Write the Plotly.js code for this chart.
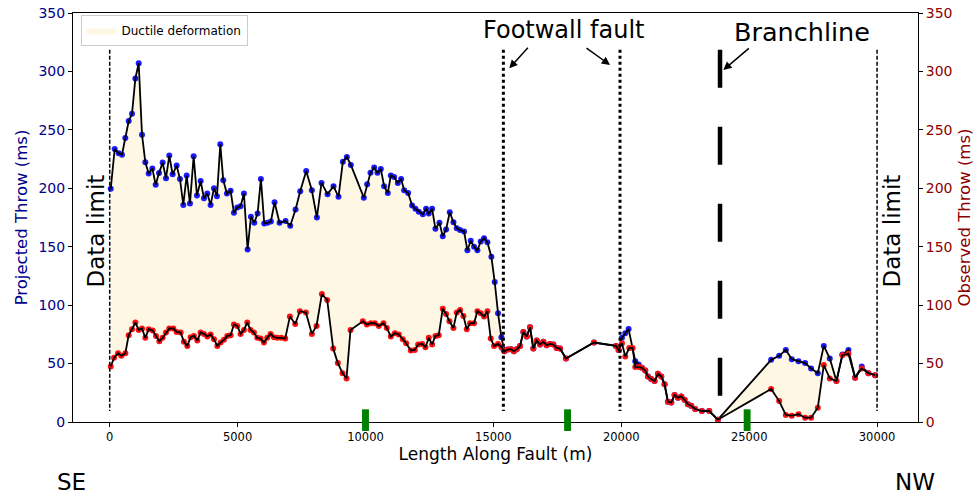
<!DOCTYPE html>
<html>
<head>
<meta charset="utf-8">
<script src="https://cdn.plot.ly/plotly-3.0.1.min.js"></script>
<style>
  html, body { margin: 0; padding: 0; background: #ffffff; }
  #chart { width: 974px; height: 496px; }
</style>
</head>
<body>
<div id="chart"></div>
<script>
// Projected throw along the fault (ms), sampled positions in metres
const projX = [
  40,195,350,480,610,742,872,1003,1133,1263,1393,1523,1667,1797,1927,2070,2200,2330,2460,2617,
  2747,2877,3008,3138,3281,3411,3555,3685,3815,3945,4076,4193,4323,4440,4583,4727,4857,4987,5117,5247,
  5391,5521,5651,5781,5911,6042,6172,6302,6445,6640,6875,7057,7266,7448,7682,7903,8099,8281,8516,8750,
  8945,9115,9271,9427,9935,10065,10195,10339,10469,10599,10729,10872,10990,11120,11263,11393,11510,11666,11823,11953,
  12083,12240,12370,12474,12604,12734,12891,13021,13151,13294,13438,13568,13698,13854,13984,14114,14245,14375,14505,14635,
  14765,14921,15052,15182,15313,15390,
  15430,15560,15690,15800,15911,16042,16172,16302,16432,16562,16693,16823,16953,17083,17214,17344,17474,17604,17839,18932,
  19792,19895,
  20026,20156,20286,20547,20677,
  20807,20937,21042,21172,21302,21432,21563,21693,21823,21953,22083,22214,22344,22474,22604,22734,22891,23151,23438,23776,
  25859,26172,26432,26666,26927,27188,27422,27683,27917,28151,28411,28645,28880,29141,29401,29661,29922
];
const projY = [
  199.5,233.6,230,228.8,243,257.5,263.8,294,307,245.9,222.2,212.6,217,203,213,222,208.6,228,212,219.4,
  208,185.8,210.9,187,227.4,193.8,206.3,191.5,195.5,185.8,200,193.2,237.6,206.8,195.5,197.8,179,183.5,184.7,195.5,
  147.7,175.6,170.5,178.4,208,169.9,170.5,171.6,188,170.5,172,168,181.8,197.5,214.8,198.3,175,204.6,195,201.8,
  192.7,222.8,226.8,220,192,203.5,213.2,217.7,213.2,216.5,201.8,196,210.9,209.7,204.6,208,198.3,196,185.2,182.4,
  180,177.8,182.4,178.4,182.4,165.4,170.5,159,164.8,179.5,171,165.9,164.2,163,147,155,150,147,154.5,157.3,
  153.9,141.4,119.8,93,72.6,62,
  60.5,62,62.3,60.6,62.3,65.1,77.1,73.2,81.1,62.9,69.7,66.3,68.6,65.7,66.8,66.3,63.4,62.9,54.4,68,
  65.1,61.7,
  72,76,79.5,52,49.3,
  46.4,44,39,36.7,35,41.2,39,32.2,17.3,16.7,23,20.8,21.9,19,15.1,13.9,11.1,9.4,9.4,2,
  53.2,56.6,61.7,53.8,52,50.4,45.8,41.8,65.1,54.4,35,57.8,61.7,37.8,47.5,41.8,40.1
];

// Observed throw along the fault (ms)
const obsX = [
  40,170,326,456,612,742,872,1003,1133,1263,1393,1523,1680,1810,1940,2070,2200,2330,2487,2617,
  2773,2903,3034,3164,3294,3424,3555,3685,3815,3945,4076,4206,4336,4466,4596,4727,4857,4987,5117,5247,
  5378,5508,5638,5768,5898,6029,6159,6289,6419,6550,6706,6862,7044,7253,7435,7670,7903,8086,8294,8503,
  8737,8919,9102,9258,9414,
  9896,10052,10208,10365,10521,10703,10833,10990,11146,11302,11458,11589,11771,11927,12057,12214,12344,12474,12604,12734,
  12864,13021,13151,13281,13438,13568,13698,13828,13958,14089,14245,14375,14505,14635,14765,14896,15026,15182,15313,
  15430,15560,15690,15800,15911,16042,16172,16302,16432,16562,16693,16823,16953,17083,17214,17344,17474,17604,17839,18932,
  19792,19895,
  20026,20156,20312,20443,20547,20700,
  20807,20937,21042,21172,21302,21432,21563,21693,21823,21953,22083,22214,22344,22474,22604,22734,22891,23151,23438,23776,
  25859,26172,26432,26666,26927,27188,27422,27683,27917,28151,28411,28645,28880,29141,29401,29661,29922
];
const obsY = [
  47.5,54.9,58.9,56.6,58.9,74.3,79.4,85.1,78.8,80,72,79.4,78.3,73.7,69.1,72,76.6,80,80,77.1,
  76.6,68.6,65.1,72.6,73.7,69.7,76.6,75.4,73.2,74.9,70.9,65.1,68,70.3,73.7,74.3,83.4,82.2,75.4,78.8,
  85.1,78.8,76.6,72,71.4,68,72,75.4,72.6,72,72,71.4,90.2,83.9,94.8,93.6,75.4,82.2,109.5,104.4,
  62.9,50.4,41.8,37.3,78.8,
  86.2,83.4,84.5,84.5,82.2,84.5,80.5,73.2,76,74.9,70.9,67.4,61.2,61.7,66.3,66.8,64,72,66.3,73.7,
  74.3,97,92.5,86.2,80.5,93.6,95.9,90.7,79.4,84.5,84.5,94.8,93,90.2,94.8,71.4,65.1,66.8,64,
  60.5,62,62.3,60.6,62.3,65.1,77.1,73.2,81.1,62.9,69.7,66.3,68.6,65.7,66.8,66.3,63.4,62.9,54.4,68,
  65.1,61.7,
  67.4,56,63.4,63.4,47,47,
  46.4,44,39,36.7,35,41.2,39,32.2,17.3,16.7,23,20.8,21.9,19,15.1,13.9,11.1,9.4,9.4,2,
  28.2,17.9,6,5.4,6.6,3.7,3.7,12.2,48.7,37.3,35,57.2,58.3,37.8,45.8,41.8,40.1
];

const xTicks = [0, 5000, 10000, 15000, 20000, 25000, 30000];
const yTicks = [0, 50, 100, 150, 200, 250, 300, 350];

// Reference positions along the fault (m)
const dataLimits = [0, 30000];
const footwallFaults = [15390, 19950];
const branchline = 23860;
const wellSites = [10000, 17900, 24920];

const FONT = 'DejaVu Sans, sans-serif';
const BLUE = '#00008b';
const RED = '#8b0000';

// Ductile deformation: area between projected (upper) and observed (lower) throw
const fillX = projX.concat(obsX.slice().reverse());
const fillY = projY.concat(obsY.slice().reverse());

const traces = [
  {
    x: fillX, y: fillY, type: 'scatter', mode: 'lines',
    fill: 'toself', fillcolor: '#fdf7e3',
    line: {width: 0, color: '#fdf7e3'},
    name: 'Ductile deformation', hoverinfo: 'skip'
  },
  {
    x: projX, y: projY, type: 'scatter', mode: 'markers',
    marker: {color: '#1a1aff', size: 6},
    showlegend: false, name: 'Projected throw'
  },
  {
    x: obsX, y: obsY, type: 'scatter', mode: 'markers', yaxis: 'y2',
    marker: {color: '#ff1010', size: 6},
    showlegend: false, name: 'Observed throw'
  },
  {
    x: projX, y: projY, type: 'scatter', mode: 'lines',
    line: {color: '#000000', width: 1.8},
    showlegend: false, hoverinfo: 'skip'
  },
  {
    x: obsX, y: obsY, type: 'scatter', mode: 'lines', yaxis: 'y2',
    line: {color: '#000000', width: 1.8},
    showlegend: false, hoverinfo: 'skip'
  }
];

const shapes = [];
dataLimits.forEach(v => shapes.push({
  type: 'line', xref: 'x', yref: 'y', x0: v, x1: v, y0: 318.5, y1: 9.5,
  line: {color: '#000000', width: 1.5, dash: '4px,2px'}, layer: 'above'
}));
footwallFaults.forEach(v => shapes.push({
  type: 'line', xref: 'x', yref: 'y', x0: v, x1: v, y0: 318.5, y1: 9.5,
  line: {color: '#000000', width: 3, dash: '3px,3px'}, layer: 'above'
}));
shapes.push({
  type: 'line', xref: 'x', yref: 'y', x0: branchline, x1: branchline, y0: 318.5, y1: 22.2,
  line: {color: '#000000', width: 4.5, dash: '38px,39px'}, layer: 'above'
});
wellSites.forEach(v => shapes.push({
  type: 'rect', xref: 'x', yref: 'paper', x0: v - 135, x1: v + 135, y0: -0.022, y1: 0.031,
  fillcolor: '#008000', line: {width: 0}, layer: 'above'
}));

const annotations = [
  {text: 'Data limit', xref: 'paper', yref: 'paper', x: 0.0278, y: 0.467, textangle: -90,
   showarrow: false, font: {family: FONT, size: 23, color: '#000'}, xanchor: 'center', yanchor: 'middle'},
  {text: 'Data limit', xref: 'paper', yref: 'paper', x: 0.9698, y: 0.467, textangle: -90,
   showarrow: false, font: {family: FONT, size: 23, color: '#000'}, xanchor: 'center', yanchor: 'middle'},
  {text: 'Footwall fault', xref: 'paper', yref: 'paper', x: 0.5801, y: 0.958,
   showarrow: false, font: {family: FONT, size: 24, color: '#000'}, xanchor: 'center', yanchor: 'middle'},
  {text: 'Branchline', xref: 'paper', yref: 'paper', x: 0.8624, y: 0.953,
   showarrow: false, font: {family: FONT, size: 25.5, color: '#000'}, xanchor: 'center', yanchor: 'middle'},
  {text: 'SE', xref: 'paper', yref: 'paper', x: -0.002, y: -0.147,
   showarrow: false, font: {family: FONT, size: 23, color: '#000'}, xanchor: 'center', yanchor: 'middle'},
  {text: 'NW', xref: 'paper', yref: 'paper', x: 0.9965, y: -0.147,
   showarrow: false, font: {family: FONT, size: 23, color: '#000'}, xanchor: 'center', yanchor: 'middle'},
  // arrows pointing at the footwall faults and the branchline
  {text: '', xref: 'x', yref: 'y', x: 15620, y: 302.7, ax: 20, ay: -22, showarrow: true,
   arrowhead: 2, arrowsize: 1.1, arrowwidth: 1.5, arrowcolor: '#000', standoff: 0},
  {text: '', xref: 'x', yref: 'y', x: 19560, y: 305.5, ax: -25, ay: -18, showarrow: true,
   arrowhead: 2, arrowsize: 1.1, arrowwidth: 1.5, arrowcolor: '#000', standoff: 0},
  {text: '', xref: 'x', yref: 'y', x: 23990, y: 301.2, ax: 27, ay: -23, showarrow: true,
   arrowhead: 2, arrowsize: 1.1, arrowwidth: 1.5, arrowcolor: '#000', standoff: 0}
];

const layout = {
  width: 974, height: 496,
  margin: {l: 73, r: 56, t: 13, b: 74, pad: 0},
  paper_bgcolor: '#ffffff', plot_bgcolor: '#ffffff',
  font: {family: FONT, color: '#000'},
  showlegend: true,
  legend: {
    x: 0.0089, y: 0.995, xanchor: 'left', yanchor: 'top',
    bgcolor: '#ffffff', bordercolor: '#cccccc', borderwidth: 1,
    font: {family: FONT, size: 12, color: '#000'}, itemwidth: 30
  },
  xaxis: {
    range: [-1435, 31600], tickvals: xTicks, ticktext: xTicks.map(String),
    ticks: 'outside', ticklen: 4, tickwidth: 1, tickcolor: '#000',
    showline: true, linecolor: '#000', linewidth: 1, mirror: true,
    showgrid: false, zeroline: false,
    tickfont: {family: FONT, size: 11.5, color: '#000'},
    title: {text: 'Length Along Fault (m)', font: {family: FONT, size: 17, color: '#000'}, standoff: 5}
  },
  yaxis: {
    range: [0, 350], tickvals: yTicks, ticks: 'outside', ticklen: 4, tickwidth: 1, tickcolor: '#000',
    showline: true, linecolor: '#000', linewidth: 1,
    showgrid: false, zeroline: false,
    tickfont: {family: FONT, size: 14, color: BLUE},
    title: {text: 'Projected Throw (ms)', font: {family: FONT, size: 16.5, color: BLUE}, standoff: 6}
  },
  yaxis2: {
    range: [0, 350], tickvals: yTicks, overlaying: 'y', side: 'right',
    ticks: 'outside', ticklen: 4, tickwidth: 1, tickcolor: '#000',
    showline: true, linecolor: '#000', linewidth: 1,
    showgrid: false, zeroline: false,
    tickfont: {family: FONT, size: 14, color: RED},
    title: {text: 'Observed Throw (ms)', font: {family: FONT, size: 16.5, color: RED}, standoff: 6}
  },
  shapes: shapes,
  annotations: annotations
};

Plotly.newPlot('chart', traces, layout, {displayModeBar: false, staticPlot: true});
</script>
</body>
</html>
